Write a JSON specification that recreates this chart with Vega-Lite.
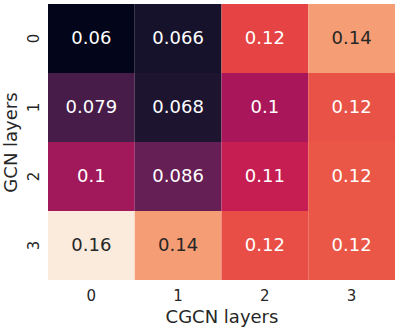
{
  "$schema": "https://vega.github.io/schema/vega-lite/v6.json",
  "width": 347,
  "height": 276,
  "autosize": {"type": "none"},
  "padding": {"left": 48, "top": 4, "right": 5, "bottom": 48},
  "background": "white",
  "config": {"view": {"stroke": null}, "font": "DejaVu Sans"},
  "data": {"values": [
    {"gcn": 0, "cgcn": 0, "v": 0.060},
    {"gcn": 0, "cgcn": 1, "v": 0.066},
    {"gcn": 0, "cgcn": 2, "v": 0.120},
    {"gcn": 0, "cgcn": 3, "v": 0.140},
    {"gcn": 1, "cgcn": 0, "v": 0.079},
    {"gcn": 1, "cgcn": 1, "v": 0.068},
    {"gcn": 1, "cgcn": 2, "v": 0.102},
    {"gcn": 1, "cgcn": 3, "v": 0.123},
    {"gcn": 2, "cgcn": 0, "v": 0.100},
    {"gcn": 2, "cgcn": 1, "v": 0.086},
    {"gcn": 2, "cgcn": 2, "v": 0.109},
    {"gcn": 2, "cgcn": 3, "v": 0.124},
    {"gcn": 3, "cgcn": 0, "v": 0.160},
    {"gcn": 3, "cgcn": 1, "v": 0.140},
    {"gcn": 3, "cgcn": 2, "v": 0.122},
    {"gcn": 3, "cgcn": 3, "v": 0.124}
  ]},
  "encoding": {
    "x": {"field": "cgcn", "type": "ordinal", "title": "CGCN layers",
      "scale": {"paddingInner": 0, "paddingOuter": 0},
      "axis": {"domain": false, "ticks": false, "labelAngle": 0, "labelPadding": 8, "labelFontSize": 15, "labelColor": "#262626", "titleFontSize": 18, "titleFontWeight": "normal", "titleColor": "#262626", "titlePadding": 5}},
    "y": {"field": "gcn", "type": "ordinal", "title": "GCN layers",
      "scale": {"paddingInner": 0, "paddingOuter": 0},
      "axis": {"domain": false, "ticks": false, "labelAngle": -90, "labelAlign": "center", "labelBaseline": "bottom", "labelPadding": 7, "labelFontSize": 15, "labelColor": "#262626", "titleFontSize": 18, "titleFontWeight": "normal", "titleColor": "#262626", "titlePadding": 6}}
  },
  "layer": [
    {"mark": {"type": "rect"},
     "encoding": {"color": {"field": "v", "type": "quantitative", "legend": null,
       "scale": {"domain": [0.06, 0.074286, 0.088571, 0.102857, 0.117143, 0.131429, 0.145714, 0.16],
         "range": ["#03051A", "#35193E", "#701F57", "#AD1759", "#E13342", "#F37651", "#F6B48F", "#FAEBDD"]}}}},
    {"mark": {"type": "text", "fontSize": 18},
     "encoding": {"text": {"field": "v", "type": "quantitative", "format": ".2~g"},
       "color": {"condition": {"test": "datum.v > 0.13", "value": "#262626"}, "value": "white"}}}
  ]
}
